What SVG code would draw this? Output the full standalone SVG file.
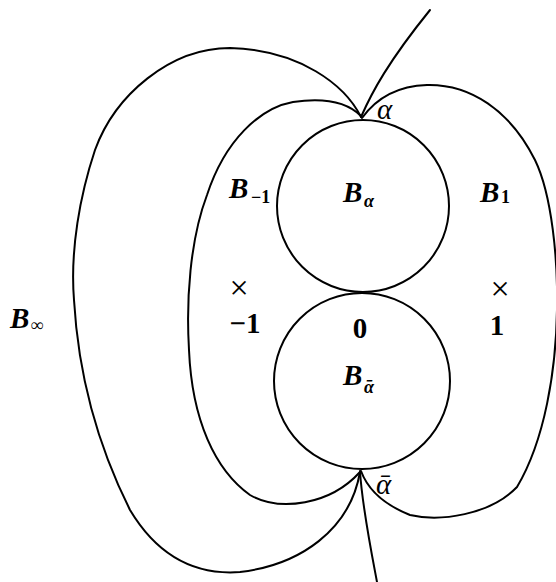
<svg xmlns="http://www.w3.org/2000/svg" width="556" height="582" viewBox="0 0 556 582">
<style>
.c{fill:none;stroke:#000;stroke-width:2;stroke-linecap:round;stroke-linejoin:round}
.t{font-family:"Liberation Serif","DejaVu Serif",serif;font-weight:bold;fill:#000}
.i{font-style:italic}
.s{font-size:18px}
.b{font-size:29px}
.x{font-size:34px;font-weight:normal}
.g{font-size:29px;font-weight:normal}
</style>
<rect width="556" height="582" fill="#fff"/>
<g id="connectors">
<path class="c" d="M361,117 C345,85 300,50 230,48 C170,48 115,95 95,150 C80,195 70,250 74,300 C78,370 95,440 130,510 C160,560 200,575 240,572 C300,565 350,530 360,472"/>
<path class="c" d="M361,116 C345,100 320,98 293,102 C260,108 225,140 207,195 C190,240 186,300 189,350 C192,420 215,470 250,495 C280,512 330,505 360,472"/>
<path class="c" d="M362,118 C375,100 395,86 427,85 C470,84 510,110 535,160 C552,195 558,260 557,310 C556,370 545,440 517,487 C490,515 440,522 410,515 C385,505 368,490 361,471"/>
<path class="c" d="M361,117 C372,92 388,62 430,10"/>
<path class="c" d="M360,471 C362,505 370,545 377,582"/>
</g>
<g id="B_alpha">
<circle class="c" cx="363" cy="206" r="86"/>
<text class="t i b" x="343" y="202">B</text><text class="t i s" x="364" y="207">α</text>
</g>
<g id="B_alphabar">
<circle class="c" cx="362" cy="381" r="88"/>
<text class="t i b" x="343" y="385">B</text><text class="t i s" x="364" y="393">ᾱ</text>
</g>
<g id="B_minus1">
<text class="t i b" x="229" y="198">B</text><text class="t s" x="251" y="203">−1</text>
</g>
<g id="B_1">
<text class="t i b" x="480" y="202">B</text><text class="t s" x="501" y="203">1</text>
</g>
<g id="B_inf">
<text class="t i b" x="10" y="328">B</text><text class="t s" x="31" y="331">∞</text>
</g>
<g id="point_minus1">
<text class="t x" x="239" y="299" text-anchor="middle">×</text>
<text class="t b" x="245" y="333" text-anchor="middle">−1</text>
</g>
<g id="point_0">
<text class="t b" x="360" y="338" text-anchor="middle">0</text>
</g>
<g id="point_1">
<text class="t x" x="500" y="300" text-anchor="middle">×</text>
<text class="t b" x="497" y="335" text-anchor="middle">1</text>
</g>
<g id="alpha">
<text class="t i g" x="377" y="119">α</text>
</g>
<g id="alphabar">
<text class="t i g" x="376" y="494">ᾱ</text>
</g>
</svg>
